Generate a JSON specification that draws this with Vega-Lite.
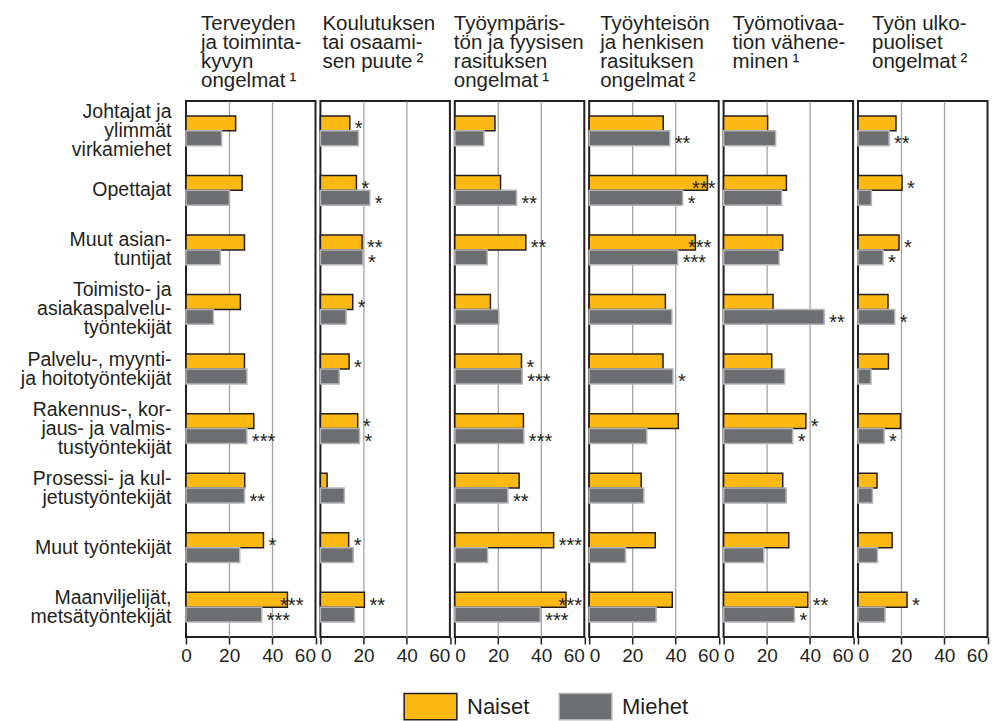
{
  "$schema": "https://vega.github.io/schema/vega-lite/v6.json",
  "padding": {"left": 19, "top": 12, "right": 5, "bottom": 0},
  "background": "white",
  "bounds": "flush",
  "spacing": 4.4,
  "datasets": {
    "rows": [
      {"p": 1, "c": "Johtajat ja|ylimmät|virkamiehet", "s": "Naiset", "v": 23.0, "sig": ""},
      {"p": 1, "c": "Johtajat ja|ylimmät|virkamiehet", "s": "Miehet", "v": 16.5, "sig": ""},
      {"p": 1, "c": "Opettajat", "s": "Naiset", "v": 26.0, "sig": ""},
      {"p": 1, "c": "Opettajat", "s": "Miehet", "v": 20.1, "sig": ""},
      {"p": 1, "c": "Muut asian-|tuntijat", "s": "Naiset", "v": 27.1, "sig": ""},
      {"p": 1, "c": "Muut asian-|tuntijat", "s": "Miehet", "v": 15.9, "sig": ""},
      {"p": 1, "c": "Toimisto- ja|asiakaspalvelu-|työntekijät", "s": "Naiset", "v": 25.2, "sig": ""},
      {"p": 1, "c": "Toimisto- ja|asiakaspalvelu-|työntekijät", "s": "Miehet", "v": 12.7, "sig": ""},
      {"p": 1, "c": "Palvelu-, myynti-|ja hoitotyöntekijät", "s": "Naiset", "v": 27.1, "sig": ""},
      {"p": 1, "c": "Palvelu-, myynti-|ja hoitotyöntekijät", "s": "Miehet", "v": 28.2, "sig": ""},
      {"p": 1, "c": "Rakennus-, kor-|jaus- ja valmis-|tustyöntekijät", "s": "Naiset", "v": 31.4, "sig": ""},
      {"p": 1, "c": "Rakennus-, kor-|jaus- ja valmis-|tustyöntekijät", "s": "Miehet", "v": 28.2, "sig": "***"},
      {"p": 1, "c": "Prosessi- ja kul-|jetustyöntekijät", "s": "Naiset", "v": 27.2, "sig": ""},
      {"p": 1, "c": "Prosessi- ja kul-|jetustyöntekijät", "s": "Miehet", "v": 27.1, "sig": "**"},
      {"p": 1, "c": "Muut työntekijät", "s": "Naiset", "v": 35.9, "sig": "*"},
      {"p": 1, "c": "Muut työntekijät", "s": "Miehet", "v": 24.9, "sig": ""},
      {"p": 1, "c": "Maanviljelijät,|metsätyöntekijät", "s": "Naiset", "v": 47.0, "sig": "***"},
      {"p": 1, "c": "Maanviljelijät,|metsätyöntekijät", "s": "Miehet", "v": 35.1, "sig": "***"},

      {"p": 2, "c": "Johtajat ja|ylimmät|virkamiehet", "s": "Naiset", "v": 13.6, "sig": "*"},
      {"p": 2, "c": "Johtajat ja|ylimmät|virkamiehet", "s": "Miehet", "v": 17.6, "sig": ""},
      {"p": 2, "c": "Opettajat", "s": "Naiset", "v": 16.7, "sig": "*"},
      {"p": 2, "c": "Opettajat", "s": "Miehet", "v": 22.9, "sig": "*"},
      {"p": 2, "c": "Muut asian-|tuntijat", "s": "Naiset", "v": 19.3, "sig": "**"},
      {"p": 2, "c": "Muut asian-|tuntijat", "s": "Miehet", "v": 19.7, "sig": "*"},
      {"p": 2, "c": "Toimisto- ja|asiakaspalvelu-|työntekijät", "s": "Naiset", "v": 15.0, "sig": "*"},
      {"p": 2, "c": "Toimisto- ja|asiakaspalvelu-|työntekijät", "s": "Miehet", "v": 11.9, "sig": ""},
      {"p": 2, "c": "Palvelu-, myynti-|ja hoitotyöntekijät", "s": "Naiset", "v": 13.3, "sig": "*"},
      {"p": 2, "c": "Palvelu-, myynti-|ja hoitotyöntekijät", "s": "Miehet", "v": 8.7, "sig": ""},
      {"p": 2, "c": "Rakennus-, kor-|jaus- ja valmis-|tustyöntekijät", "s": "Naiset", "v": 17.3, "sig": "*"},
      {"p": 2, "c": "Rakennus-, kor-|jaus- ja valmis-|tustyöntekijät", "s": "Miehet", "v": 18.1, "sig": "*"},
      {"p": 2, "c": "Prosessi- ja kul-|jetustyöntekijät", "s": "Naiset", "v": 3.1, "sig": ""},
      {"p": 2, "c": "Prosessi- ja kul-|jetustyöntekijät", "s": "Miehet", "v": 11.1, "sig": ""},
      {"p": 2, "c": "Muut työntekijät", "s": "Naiset", "v": 13.1, "sig": "*"},
      {"p": 2, "c": "Muut työntekijät", "s": "Miehet", "v": 15.2, "sig": ""},
      {"p": 2, "c": "Maanviljelijät,|metsätyöntekijät", "s": "Naiset", "v": 20.4, "sig": "**"},
      {"p": 2, "c": "Maanviljelijät,|metsätyöntekijät", "s": "Miehet", "v": 15.8, "sig": ""},

      {"p": 3, "c": "Johtajat ja|ylimmät|virkamiehet", "s": "Naiset", "v": 18.6, "sig": ""},
      {"p": 3, "c": "Johtajat ja|ylimmät|virkamiehet", "s": "Miehet", "v": 13.5, "sig": ""},
      {"p": 3, "c": "Opettajat", "s": "Naiset", "v": 21.2, "sig": ""},
      {"p": 3, "c": "Opettajat", "s": "Miehet", "v": 28.6, "sig": "**"},
      {"p": 3, "c": "Muut asian-|tuntijat", "s": "Naiset", "v": 32.9, "sig": "**"},
      {"p": 3, "c": "Muut asian-|tuntijat", "s": "Miehet", "v": 15.0, "sig": ""},
      {"p": 3, "c": "Toimisto- ja|asiakaspalvelu-|työntekijät", "s": "Naiset", "v": 16.5, "sig": ""},
      {"p": 3, "c": "Toimisto- ja|asiakaspalvelu-|työntekijät", "s": "Miehet", "v": 20.4, "sig": ""},
      {"p": 3, "c": "Palvelu-, myynti-|ja hoitotyöntekijät", "s": "Naiset", "v": 30.9, "sig": "*"},
      {"p": 3, "c": "Palvelu-, myynti-|ja hoitotyöntekijät", "s": "Miehet", "v": 31.2, "sig": "***"},
      {"p": 3, "c": "Rakennus-, kor-|jaus- ja valmis-|tustyöntekijät", "s": "Naiset", "v": 31.8, "sig": ""},
      {"p": 3, "c": "Rakennus-, kor-|jaus- ja valmis-|tustyöntekijät", "s": "Miehet", "v": 32.0, "sig": "***"},
      {"p": 3, "c": "Prosessi- ja kul-|jetustyöntekijät", "s": "Naiset", "v": 29.8, "sig": ""},
      {"p": 3, "c": "Prosessi- ja kul-|jetustyöntekijät", "s": "Miehet", "v": 24.6, "sig": "**"},
      {"p": 3, "c": "Muut työntekijät", "s": "Naiset", "v": 45.8, "sig": "***"},
      {"p": 3, "c": "Muut työntekijät", "s": "Miehet", "v": 15.2, "sig": ""},
      {"p": 3, "c": "Maanviljelijät,|metsätyöntekijät", "s": "Naiset", "v": 51.5, "sig": "***"},
      {"p": 3, "c": "Maanviljelijät,|metsätyöntekijät", "s": "Miehet", "v": 39.6, "sig": "***"},

      {"p": 4, "c": "Johtajat ja|ylimmät|virkamiehet", "s": "Naiset", "v": 34.3, "sig": ""},
      {"p": 4, "c": "Johtajat ja|ylimmät|virkamiehet", "s": "Miehet", "v": 37.3, "sig": "**"},
      {"p": 4, "c": "Opettajat", "s": "Naiset", "v": 54.8, "sig": "***"},
      {"p": 4, "c": "Opettajat", "s": "Miehet", "v": 43.3, "sig": "*"},
      {"p": 4, "c": "Muut asian-|tuntijat", "s": "Naiset", "v": 49.2, "sig": "***"},
      {"p": 4, "c": "Muut asian-|tuntijat", "s": "Miehet", "v": 41.0, "sig": "***"},
      {"p": 4, "c": "Toimisto- ja|asiakaspalvelu-|työntekijät", "s": "Naiset", "v": 35.3, "sig": ""},
      {"p": 4, "c": "Toimisto- ja|asiakaspalvelu-|työntekijät", "s": "Miehet", "v": 38.3, "sig": ""},
      {"p": 4, "c": "Palvelu-, myynti-|ja hoitotyöntekijät", "s": "Naiset", "v": 34.2, "sig": ""},
      {"p": 4, "c": "Palvelu-, myynti-|ja hoitotyöntekijät", "s": "Miehet", "v": 38.8, "sig": "*"},
      {"p": 4, "c": "Rakennus-, kor-|jaus- ja valmis-|tustyöntekijät", "s": "Naiset", "v": 41.3, "sig": ""},
      {"p": 4, "c": "Rakennus-, kor-|jaus- ja valmis-|tustyöntekijät", "s": "Miehet", "v": 26.7, "sig": ""},
      {"p": 4, "c": "Prosessi- ja kul-|jetustyöntekijät", "s": "Naiset", "v": 24.1, "sig": ""},
      {"p": 4, "c": "Prosessi- ja kul-|jetustyöntekijät", "s": "Miehet", "v": 25.3, "sig": ""},
      {"p": 4, "c": "Muut työntekijät", "s": "Naiset", "v": 30.6, "sig": ""},
      {"p": 4, "c": "Muut työntekijät", "s": "Miehet", "v": 16.8, "sig": ""},
      {"p": 4, "c": "Maanviljelijät,|metsätyöntekijät", "s": "Naiset", "v": 38.5, "sig": ""},
      {"p": 4, "c": "Maanviljelijät,|metsätyöntekijät", "s": "Miehet", "v": 31.0, "sig": ""},

      {"p": 5, "c": "Johtajat ja|ylimmät|virkamiehet", "s": "Naiset", "v": 20.4, "sig": ""},
      {"p": 5, "c": "Johtajat ja|ylimmät|virkamiehet", "s": "Miehet", "v": 24.1, "sig": ""},
      {"p": 5, "c": "Opettajat", "s": "Naiset", "v": 29.1, "sig": ""},
      {"p": 5, "c": "Opettajat", "s": "Miehet", "v": 26.9, "sig": ""},
      {"p": 5, "c": "Muut asian-|tuntijat", "s": "Naiset", "v": 27.4, "sig": ""},
      {"p": 5, "c": "Muut asian-|tuntijat", "s": "Miehet", "v": 25.7, "sig": ""},
      {"p": 5, "c": "Toimisto- ja|asiakaspalvelu-|työntekijät", "s": "Naiset", "v": 22.9, "sig": ""},
      {"p": 5, "c": "Toimisto- ja|asiakaspalvelu-|työntekijät", "s": "Miehet", "v": 46.6, "sig": "**"},
      {"p": 5, "c": "Palvelu-, myynti-|ja hoitotyöntekijät", "s": "Naiset", "v": 22.3, "sig": ""},
      {"p": 5, "c": "Palvelu-, myynti-|ja hoitotyöntekijät", "s": "Miehet", "v": 28.3, "sig": ""},
      {"p": 5, "c": "Rakennus-, kor-|jaus- ja valmis-|tustyöntekijät", "s": "Naiset", "v": 38.1, "sig": "*"},
      {"p": 5, "c": "Rakennus-, kor-|jaus- ja valmis-|tustyöntekijät", "s": "Miehet", "v": 32.0, "sig": "*"},
      {"p": 5, "c": "Prosessi- ja kul-|jetustyöntekijät", "s": "Naiset", "v": 27.4, "sig": ""},
      {"p": 5, "c": "Prosessi- ja kul-|jetustyöntekijät", "s": "Miehet", "v": 29.0, "sig": ""},
      {"p": 5, "c": "Muut työntekijät", "s": "Naiset", "v": 30.2, "sig": ""},
      {"p": 5, "c": "Muut työntekijät", "s": "Miehet", "v": 18.6, "sig": ""},
      {"p": 5, "c": "Maanviljelijät,|metsätyöntekijät", "s": "Naiset", "v": 39.0, "sig": "**"},
      {"p": 5, "c": "Maanviljelijät,|metsätyöntekijät", "s": "Miehet", "v": 32.8, "sig": "*"},

      {"p": 6, "c": "Johtajat ja|ylimmät|virkamiehet", "s": "Naiset", "v": 17.6, "sig": ""},
      {"p": 6, "c": "Johtajat ja|ylimmät|virkamiehet", "s": "Miehet", "v": 14.4, "sig": "**"},
      {"p": 6, "c": "Opettajat", "s": "Naiset", "v": 20.4, "sig": "*"},
      {"p": 6, "c": "Opettajat", "s": "Miehet", "v": 6.2, "sig": ""},
      {"p": 6, "c": "Muut asian-|tuntijat", "s": "Naiset", "v": 19.0, "sig": "*"},
      {"p": 6, "c": "Muut asian-|tuntijat", "s": "Miehet", "v": 11.6, "sig": "*"},
      {"p": 6, "c": "Toimisto- ja|asiakaspalvelu-|työntekijät", "s": "Naiset", "v": 13.9, "sig": ""},
      {"p": 6, "c": "Toimisto- ja|asiakaspalvelu-|työntekijät", "s": "Miehet", "v": 17.0, "sig": "*"},
      {"p": 6, "c": "Palvelu-, myynti-|ja hoitotyöntekijät", "s": "Naiset", "v": 14.1, "sig": ""},
      {"p": 6, "c": "Palvelu-, myynti-|ja hoitotyöntekijät", "s": "Miehet", "v": 6.0, "sig": ""},
      {"p": 6, "c": "Rakennus-, kor-|jaus- ja valmis-|tustyöntekijät", "s": "Naiset", "v": 19.7, "sig": ""},
      {"p": 6, "c": "Rakennus-, kor-|jaus- ja valmis-|tustyöntekijät", "s": "Miehet", "v": 12.1, "sig": "*"},
      {"p": 6, "c": "Prosessi- ja kul-|jetustyöntekijät", "s": "Naiset", "v": 8.8, "sig": ""},
      {"p": 6, "c": "Prosessi- ja kul-|jetustyöntekijät", "s": "Miehet", "v": 6.7, "sig": ""},
      {"p": 6, "c": "Muut työntekijät", "s": "Naiset", "v": 15.8, "sig": ""},
      {"p": 6, "c": "Muut työntekijät", "s": "Miehet", "v": 9.0, "sig": ""},
      {"p": 6, "c": "Maanviljelijät,|metsätyöntekijät", "s": "Naiset", "v": 22.7, "sig": "*"},
      {"p": 6, "c": "Maanviljelijät,|metsätyöntekijät", "s": "Miehet", "v": 12.5, "sig": ""}
    ]
  },
  "data": {"name": "rows"},
  "config": {
    "font": "Liberation Sans",
    "view": {"stroke": "#231f20", "strokeWidth": 2},
    "title": {"fontSize": 20.5, "fontWeight": "normal", "lineHeight": 19, "anchor": "start", "color": "#231f20", "offset": 10, "baseline": "alphabetic", "frame": "group"},
    "axisX": {
      "values": [0, 20, 40, 60],
      "grid": true,
      "gridColor": {"condition": {"test": "datum.value == 0 || datum.value == 60", "value": "transparent"}, "value": "#a3a3a3"},
      "gridWidth": 1.3,
      "domain": false,
      "tickColor": "#231f20",
      "tickSize": 7,
      "tickWidth": 1.5,
      "labelFontSize": 19,
      "labelPadding": 2,
      "labelColor": "#231f20",
      "labelFlush": true,
      "title": null
    },
    "legend": {
      "orient": "none",
      "legendX": 217,
      "legendY": 578,
      "direction": "horizontal",
      "symbolType": "M-1,-0.5H1V0.5H-1Z",
      "symbolSize": 2777,
      "symbolStrokeWidth": 1.5,
      "labelFontSize": 22,
      "labelOffset": 9,
      "labelBaseline": "middle",
      "columnPadding": 26,
      "labelColor": "#231f20"
    }
  },
  "hconcat": [
    {
      "width": 129.5, "height": 536,
      "title": {"text": ["Terveyden", "ja toiminta-", "kyvyn", "ongelmat\u2009¹"], "dx": 15},
      "transform": [{"filter": "datum.p == 1"}],
      "encoding": {
        "y": {"field": "c", "type": "nominal", "scale": {"domain": ["Johtajat ja|ylimmät|virkamiehet", "Opettajat", "Muut asian-|tuntijat", "Toimisto- ja|asiakaspalvelu-|työntekijät", "Palvelu-, myynti-|ja hoitotyöntekijät", "Rakennus-, kor-|jaus- ja valmis-|tustyöntekijät", "Prosessi- ja kul-|jetustyöntekijät", "Muut työntekijät", "Maanviljelijät,|metsätyöntekijät"], "paddingInner": 0, "paddingOuter": 0},
          "axis": {"title": null, "domain": false, "ticks": false, "grid": false, "labelFontSize": 19.5, "labelLineHeight": 19, "labelPadding": 15, "labelLimit": 300, "labelColor": "#231f20",
            "labelExpr": "split(datum.label, '|')",
            "labelOffset": {"condition": [{"test": "length(split(datum.label, '|')) == 3", "value": -19}, {"test": "length(split(datum.label, '|')) == 2", "value": -9.5}], "value": 0}}},
        "yOffset": {"field": "s", "scale": {"domain": ["Naiset", "Miehet"], "paddingInner": 0, "paddingOuter": 1.05}},
        "x": {"field": "v", "type": "quantitative", "scale": {"domain": [0, 60], "nice": false},
          "axis": {"labelFlush": false, "labelAlign": {"condition": {"test": "datum.value == 60", "value": "right"}, "value": "center"}}}
      },
      "layer": [
        {"mark": {"type": "bar", "strokeWidth": 1.5},
         "encoding": {
           "fill": {"field": "s", "title": null, "scale": {"domain": ["Naiset", "Miehet"], "range": ["#fdb913", "#6d6e71"]}},
           "stroke": {"field": "s", "title": null, "scale": {"domain": ["Naiset", "Miehet"], "range": ["#231f20", "#b3b4b6"]}}
         }},
        {"transform": [{"filter": "datum.sig != '' && !(datum.sig == '***' && datum.v >= 46.5)"}],
         "mark": {"type": "text", "align": "left", "dx": 5, "dy": 6, "fontSize": 20, "color": "#231f20"}, "encoding": {"text": {"field": "sig"}}},
        {"transform": [{"filter": "datum.sig == '***' && datum.v >= 46.5 && datum.v < 53"}],
         "mark": {"type": "text", "align": "right", "dx": 16, "dy": 6, "fontSize": 20, "color": "#231f20"}, "encoding": {"text": {"field": "sig"}}},
        {"transform": [{"filter": "datum.sig == '***' && datum.v >= 53"}],
         "mark": {"type": "text", "align": "right", "dx": 8, "dy": 6, "fontSize": 20, "color": "#231f20"}, "encoding": {"text": {"field": "sig"}}}
      ]
    },
    {
      "width": 129.5, "height": 536,
      "title": {"text": ["Koulutuksen", "tai osaami-", "sen puute\u2009²", " "], "dx": 2},
      "transform": [{"filter": "datum.p == 2"}],
      "encoding": {
        "y": {"field": "c", "type": "nominal", "scale": {"domain": ["Johtajat ja|ylimmät|virkamiehet", "Opettajat", "Muut asian-|tuntijat", "Toimisto- ja|asiakaspalvelu-|työntekijät", "Palvelu-, myynti-|ja hoitotyöntekijät", "Rakennus-, kor-|jaus- ja valmis-|tustyöntekijät", "Prosessi- ja kul-|jetustyöntekijät", "Muut työntekijät", "Maanviljelijät,|metsätyöntekijät"], "paddingInner": 0, "paddingOuter": 0}, "axis": null},
        "yOffset": {"field": "s", "scale": {"domain": ["Naiset", "Miehet"], "paddingInner": 0, "paddingOuter": 1.05}},
        "x": {"field": "v", "type": "quantitative", "scale": {"domain": [0, 60], "nice": false}}
      },
      "layer": [
        {"mark": {"type": "bar", "strokeWidth": 1.5},
         "encoding": {
           "fill": {"field": "s", "title": null, "scale": {"domain": ["Naiset", "Miehet"], "range": ["#fdb913", "#6d6e71"]}},
           "stroke": {"field": "s", "title": null, "scale": {"domain": ["Naiset", "Miehet"], "range": ["#231f20", "#b3b4b6"]}}
         }},
        {"transform": [{"filter": "datum.sig != '' && !(datum.sig == '***' && datum.v >= 46.5)"}],
         "mark": {"type": "text", "align": "left", "dx": 5, "dy": 6, "fontSize": 20, "color": "#231f20"}, "encoding": {"text": {"field": "sig"}}}
      ]
    },
    {
      "width": 129.5, "height": 536,
      "title": {"text": ["Työympäris-", "tön ja fyysisen", "rasituksen", "ongelmat\u2009¹"], "dx": -1},
      "transform": [{"filter": "datum.p == 3"}],
      "encoding": {
        "y": {"field": "c", "type": "nominal", "scale": {"domain": ["Johtajat ja|ylimmät|virkamiehet", "Opettajat", "Muut asian-|tuntijat", "Toimisto- ja|asiakaspalvelu-|työntekijät", "Palvelu-, myynti-|ja hoitotyöntekijät", "Rakennus-, kor-|jaus- ja valmis-|tustyöntekijät", "Prosessi- ja kul-|jetustyöntekijät", "Muut työntekijät", "Maanviljelijät,|metsätyöntekijät"], "paddingInner": 0, "paddingOuter": 0}, "axis": null},
        "yOffset": {"field": "s", "scale": {"domain": ["Naiset", "Miehet"], "paddingInner": 0, "paddingOuter": 1.05}},
        "x": {"field": "v", "type": "quantitative", "scale": {"domain": [0, 60], "nice": false}}
      },
      "layer": [
        {"mark": {"type": "bar", "strokeWidth": 1.5},
         "encoding": {
           "fill": {"field": "s", "title": null, "scale": {"domain": ["Naiset", "Miehet"], "range": ["#fdb913", "#6d6e71"]}},
           "stroke": {"field": "s", "title": null, "scale": {"domain": ["Naiset", "Miehet"], "range": ["#231f20", "#b3b4b6"]}}
         }},
        {"transform": [{"filter": "datum.sig != '' && !(datum.sig == '***' && datum.v >= 46.5)"}],
         "mark": {"type": "text", "align": "left", "dx": 5, "dy": 6, "fontSize": 20, "color": "#231f20"}, "encoding": {"text": {"field": "sig"}}},
        {"transform": [{"filter": "datum.sig == '***' && datum.v >= 46.5 && datum.v < 53"}],
         "mark": {"type": "text", "align": "right", "dx": 16, "dy": 6, "fontSize": 20, "color": "#231f20"}, "encoding": {"text": {"field": "sig"}}}
      ]
    },
    {
      "width": 129.5, "height": 536,
      "title": {"text": ["Työyhteisön", "ja henkisen", "rasituksen", "ongelmat\u2009²"], "dx": 11},
      "transform": [{"filter": "datum.p == 4"}],
      "encoding": {
        "y": {"field": "c", "type": "nominal", "scale": {"domain": ["Johtajat ja|ylimmät|virkamiehet", "Opettajat", "Muut asian-|tuntijat", "Toimisto- ja|asiakaspalvelu-|työntekijät", "Palvelu-, myynti-|ja hoitotyöntekijät", "Rakennus-, kor-|jaus- ja valmis-|tustyöntekijät", "Prosessi- ja kul-|jetustyöntekijät", "Muut työntekijät", "Maanviljelijät,|metsätyöntekijät"], "paddingInner": 0, "paddingOuter": 0}, "axis": null},
        "yOffset": {"field": "s", "scale": {"domain": ["Naiset", "Miehet"], "paddingInner": 0, "paddingOuter": 1.05}},
        "x": {"field": "v", "type": "quantitative", "scale": {"domain": [0, 60], "nice": false}}
      },
      "layer": [
        {"mark": {"type": "bar", "strokeWidth": 1.5},
         "encoding": {
           "fill": {"field": "s", "title": null, "scale": {"domain": ["Naiset", "Miehet"], "range": ["#fdb913", "#6d6e71"]}},
           "stroke": {"field": "s", "title": null, "scale": {"domain": ["Naiset", "Miehet"], "range": ["#231f20", "#b3b4b6"]}}
         }},
        {"transform": [{"filter": "datum.sig != '' && !(datum.sig == '***' && datum.v >= 46.5)"}],
         "mark": {"type": "text", "align": "left", "dx": 5, "dy": 6, "fontSize": 20, "color": "#231f20"}, "encoding": {"text": {"field": "sig"}}},
        {"transform": [{"filter": "datum.sig == '***' && datum.v >= 46.5 && datum.v < 53"}],
         "mark": {"type": "text", "align": "right", "dx": 16, "dy": 6, "fontSize": 20, "color": "#231f20"}, "encoding": {"text": {"field": "sig"}}},
        {"transform": [{"filter": "datum.sig == '***' && datum.v >= 53"}],
         "mark": {"type": "text", "align": "right", "dx": 8, "dy": 6, "fontSize": 20, "color": "#231f20"}, "encoding": {"text": {"field": "sig"}}}
      ]
    },
    {
      "width": 129.5, "height": 536,
      "title": {"text": ["Työmotivaa-", "tion vähene-", "minen\u2009¹", " "], "dx": 9},
      "transform": [{"filter": "datum.p == 5"}],
      "encoding": {
        "y": {"field": "c", "type": "nominal", "scale": {"domain": ["Johtajat ja|ylimmät|virkamiehet", "Opettajat", "Muut asian-|tuntijat", "Toimisto- ja|asiakaspalvelu-|työntekijät", "Palvelu-, myynti-|ja hoitotyöntekijät", "Rakennus-, kor-|jaus- ja valmis-|tustyöntekijät", "Prosessi- ja kul-|jetustyöntekijät", "Muut työntekijät", "Maanviljelijät,|metsätyöntekijät"], "paddingInner": 0, "paddingOuter": 0}, "axis": null},
        "yOffset": {"field": "s", "scale": {"domain": ["Naiset", "Miehet"], "paddingInner": 0, "paddingOuter": 1.05}},
        "x": {"field": "v", "type": "quantitative", "scale": {"domain": [0, 60], "nice": false}}
      },
      "layer": [
        {"mark": {"type": "bar", "strokeWidth": 1.5},
         "encoding": {
           "fill": {"field": "s", "title": null, "scale": {"domain": ["Naiset", "Miehet"], "range": ["#fdb913", "#6d6e71"]}},
           "stroke": {"field": "s", "title": null, "scale": {"domain": ["Naiset", "Miehet"], "range": ["#231f20", "#b3b4b6"]}}
         }},
        {"transform": [{"filter": "datum.sig != '' && !(datum.sig == '***' && datum.v >= 46.5)"}],
         "mark": {"type": "text", "align": "left", "dx": 5, "dy": 6, "fontSize": 20, "color": "#231f20"}, "encoding": {"text": {"field": "sig"}}}
      ]
    },
    {
      "width": 129.5, "height": 536,
      "title": {"text": ["Työn ulko-", "puoliset", "ongelmat\u2009²", " "], "dx": 14},
      "transform": [{"filter": "datum.p == 6"}],
      "encoding": {
        "y": {"field": "c", "type": "nominal", "scale": {"domain": ["Johtajat ja|ylimmät|virkamiehet", "Opettajat", "Muut asian-|tuntijat", "Toimisto- ja|asiakaspalvelu-|työntekijät", "Palvelu-, myynti-|ja hoitotyöntekijät", "Rakennus-, kor-|jaus- ja valmis-|tustyöntekijät", "Prosessi- ja kul-|jetustyöntekijät", "Muut työntekijät", "Maanviljelijät,|metsätyöntekijät"], "paddingInner": 0, "paddingOuter": 0}, "axis": null},
        "yOffset": {"field": "s", "scale": {"domain": ["Naiset", "Miehet"], "paddingInner": 0, "paddingOuter": 1.05}},
        "x": {"field": "v", "type": "quantitative", "scale": {"domain": [0, 60], "nice": false}}
      },
      "layer": [
        {"mark": {"type": "bar", "strokeWidth": 1.5},
         "encoding": {
           "fill": {"field": "s", "title": null, "scale": {"domain": ["Naiset", "Miehet"], "range": ["#fdb913", "#6d6e71"]}},
           "stroke": {"field": "s", "title": null, "scale": {"domain": ["Naiset", "Miehet"], "range": ["#231f20", "#b3b4b6"]}}
         }},
        {"transform": [{"filter": "datum.sig != '' && !(datum.sig == '***' && datum.v >= 46.5)"}],
         "mark": {"type": "text", "align": "left", "dx": 5, "dy": 6, "fontSize": 20, "color": "#231f20"}, "encoding": {"text": {"field": "sig"}}}
      ]
    }
  ]
}
